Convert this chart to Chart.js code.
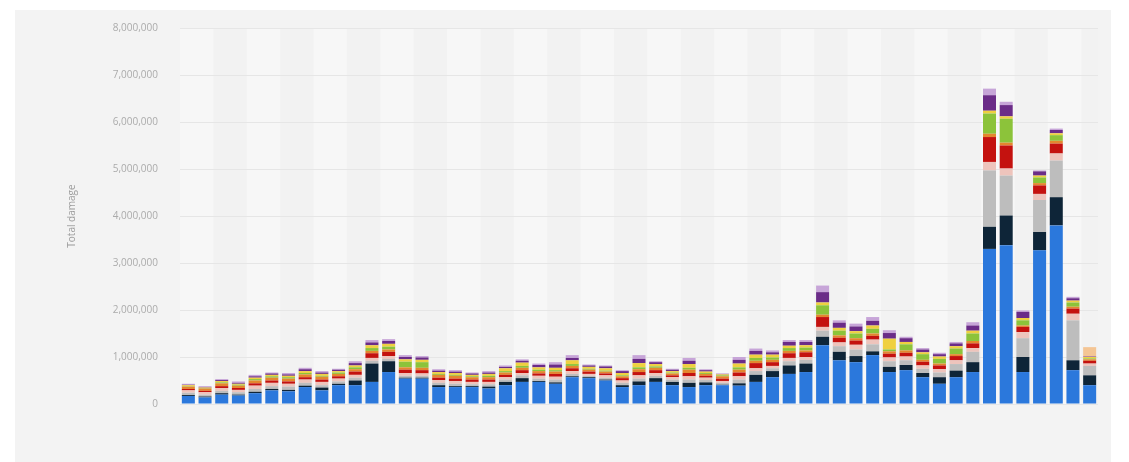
<!DOCTYPE html>
<html><head><meta charset="utf-8">
<script src="https://cdn.jsdelivr.net/npm/chart.js@4"></script>
<style>
html,body{margin:0;padding:0;background:#fff;}
#card{position:absolute;left:15px;top:10px;width:1096px;height:452px;background:#f3f3f3;}
#wrap{position:absolute;left:0;top:0;width:1129px;height:462px;}
</style></head><body>
<div id="card"></div>
<div id="wrap"><canvas id="c" width="1129" height="462"></canvas></div>
<script>
const categories = ['1964','1965','1966','1967','1968','1969','1970','1971','1972','1973','1974','1975','1976','1977','1978','1979','1980','1981','1982','1983','1984','1985','1986','1987','1988','1989','1990','1991','1992','1993','1994','1995','1996','1997','1998','1999','2000','2001','2002','2003','2004','2005','2006','2007','2008','2009','2010','2011','2012','2013','2014','2015','2016','2017','2018'];

const blue   = [170000,140000,200000,180000,230000,290000,270000,360000,290000,400000, 400000,470000,680000,540000,540000,360000,360000,360000,330000,400000, 470000,470000,430000,570000,550000,500000,360000,400000,470000,400000, 360000,400000,400000,390000,470000,570000,640000,680000,1250000,930000, 890000,1040000,680000,720000,570000,430000,570000,680000,3300000,3380000, 680000,3270000,3800000,720000,400000];
const navy   = [20000,20000,30000,20000,30000,30000,30000,30000,60000,30000, 100000,390000,230000,20000,20000,40000,20000,20000,40000,70000, 80000,20000,30000,20000,20000,20000,40000,80000,80000,70000, 90000,60000,10000,50000,150000,130000,180000,180000,180000,180000, 130000,80000,110000,110000,90000,140000,140000,210000,470000,630000, 320000,390000,600000,210000,210000];
const gray   = [50000,40000,50000,50000,60000,60000,70000,60000,50000,50000, 60000,60000,50000,40000,40000,50000,50000,40000,50000,50000, 60000,50000,60000,50000,30000,40000,50000,60000,50000,50000, 70000,50000,40000,80000,80000,60000,90000,80000,130000,120000, 140000,150000,120000,100000,90000,100000,140000,220000,1200000,850000, 400000,680000,780000,850000,200000];
const pink   = [50000,50000,60000,50000,70000,70000,60000,70000,70000,60000, 60000,60000,60000,60000,50000,60000,60000,50000,50000,50000, 50000,60000,60000,60000,40000,50000,50000,70000,60000,50000, 70000,50000,40000,70000,60000,50000,70000,60000,80000,80000, 100000,100000,80000,80000,70000,70000,80000,80000,180000,150000, 130000,130000,150000,140000,50000];
const red    = [30000,30000,40000,40000,50000,50000,50000,50000,50000,50000, 70000,100000,90000,70000,70000,50000,50000,50000,50000,50000, 60000,50000,60000,60000,50000,40000,50000,70000,60000,40000, 70000,40000,50000,80000,110000,80000,100000,100000,210000,100000, 90000,80000,80000,80000,80000,80000,90000,100000,530000,490000, 110000,180000,210000,110000,60000];
const orange = [50000,50000,60000,50000,60000,60000,60000,60000,60000,50000, 50000,50000,50000,50000,50000,60000,60000,50000,50000,50000, 50000,50000,50000,50000,40000,40000,40000,60000,50000,40000, 70000,40000,50000,60000,50000,50000,50000,40000,50000,50000, 50000,50000,50000,50000,40000,40000,40000,50000,70000,60000, 30000,50000,60000,40000,30000];
const green  = [10000,10000,20000,20000,30000,30000,30000,30000,20000,30000, 40000,60000,60000,120000,120000,20000,20000,20000,30000,30000, 40000,30000,30000,40000,20000,20000,20000,40000,30000,20000, 40000,20000,20000,50000,60000,50000,60000,60000,200000,100000, 100000,100000,40000,130000,120000,100000,120000,160000,430000,510000, 110000,120000,120000,90000,20000];
const yellow = [20000,10000,30000,20000,30000,30000,30000,40000,40000,30000, 40000,60000,60000,50000,50000,40000,40000,30000,40000,60000, 70000,50000,50000,80000,40000,50000,50000,90000,50000,30000, 80000,30000,20000,80000,70000,60000,50000,50000,60000,60000, 50000,70000,230000,50000,40000,50000,50000,60000,60000,50000, 50000,40000,40000,40000,30000];
const purple = [10000,10000,20000,20000,30000,30000,30000,40000,30000,30000, 50000,60000,60000,50000,50000,30000,30000,30000,30000,30000, 40000,50000,70000,50000,30000,40000,40000,90000,40000,30000, 70000,30000,10000,80000,80000,50000,80000,70000,220000,110000, 100000,100000,120000,80000,60000,50000,60000,110000,330000,240000, 130000,90000,70000,50000,10000];
const lilac  = [20000,20000,20000,30000,30000,20000,30000,30000,30000,20000, 40000,50000,40000,40000,30000,30000,30000,20000,30000,30000, 30000,30000,50000,60000,20000,20000,20000,80000,20000,20000, 60000,20000,10000,60000,50000,40000,40000,40000,140000,50000, 60000,80000,60000,30000,30000,30000,30000,70000,140000,70000, 30000,20000,30000,30000,0];
const peach  = [0,0,0,0,0,0,0,0,0,0, 0,0,0,0,0,0,0,0,0,0, 0,0,0,0,0,0,0,0,0,0, 0,0,0,0,0,0,0,0,0,0, 0,0,0,0,0,0,0,0,0,0, 0,0,0,0,200000];

const yTicks = [0,1000000,2000000,3000000,4000000,5000000,6000000,7000000,8000000];

const seriesList = [
  ['Blue', blue, '#2b78dc'],
  ['Navy', navy, '#0e2538'],
  ['Gray', gray, '#bdbdbd'],
  ['Pink', pink, '#eec4bc'],
  ['Red', red, '#c4120f'],
  ['Orange', orange, '#e4862e'],
  ['Green', green, '#8cc33a'],
  ['Yellow', yellow, '#efd040'],
  ['Purple', purple, '#6b2c88'],
  ['Lilac', lilac, '#c7a5d8'],
  ['Peach', peach, '#f4c594']
];

const bands = {
  id: 'bands',
  beforeDraw(chart) {
    const {ctx, chartArea: a, scales: {x}} = chart;
    ctx.save();
    ctx.fillStyle = '#f2f2f2';
    ctx.fillRect(a.left, a.top, a.right - a.left, a.bottom - a.top);
    const n = categories.length;
    const w = (a.right - a.left) / n;
    ctx.fillStyle = '#f7f7f7';
    for (let i = 0; i < n; i += 4) {
      const l = x.getPixelForValue(i) - w / 2;
      ctx.fillRect(l, a.top, Math.min(2 * w, a.right - l), a.bottom - a.top);
    }
    ctx.restore();
  }
};

new Chart(document.getElementById('c'), {
  type: 'bar',
  data: {
    labels: categories,
    datasets: seriesList.map(s => ({
      label: s[0], data: s[1], backgroundColor: s[2], borderWidth: 0,
      barPercentage: 0.78, categoryPercentage: 1.0
    }))
  },
  options: {
    responsive: false,
    animation: false,
    layout: {padding: {left: 62, right: 31, top: 20, bottom: 58}},
    plugins: {legend: {display: false}, tooltip: {enabled: false}},
    scales: {
      x: {
        stacked: true,
        ticks: {display: false},
        grid: {display: false, drawTicks: false},
        border: {display: false}
      },
      y: {
        stacked: true,
        min: 0, max: 8000000,
        afterBuildTicks(s) { s.ticks = yTicks.map(v => ({value: v})); },
        afterFit(s) { s.width = 118; },
        ticks: {
          padding: 22, color: '#ababab',
          font: {size: 10, family: 'Open Sans'},
          callback: v => v.toLocaleString('en-US')
        },
        grid: {color: '#e6e6e6', drawTicks: false},
        border: {display: false},
        title: {display: true, text: 'Total damage', color: '#9d9d9d', font: {size: 10, family: 'Open Sans'}}
      }
    }
  },
  plugins: [bands]
});
</script>
</body></html>
